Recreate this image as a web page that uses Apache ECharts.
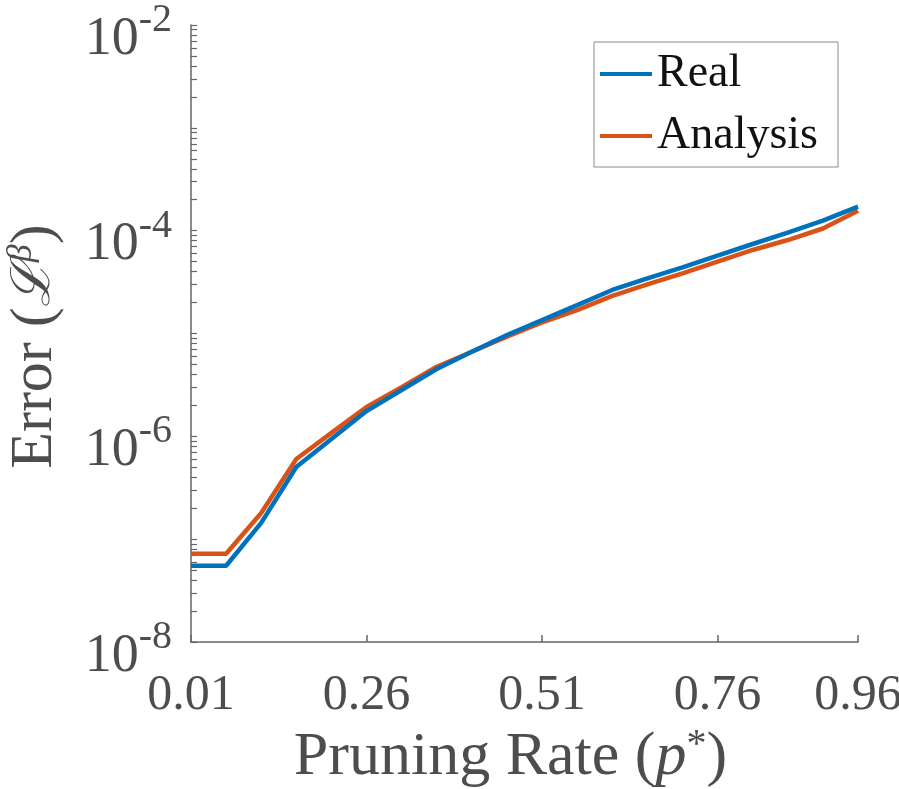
<!DOCTYPE html>
<html>
<head>
<meta charset="utf-8">
<script src="https://cdn.jsdelivr.net/npm/echarts@6/dist/echarts.min.js"></script>
<style>html,body{margin:0;padding:0;background:#fff;}#c{width:899px;height:789px;}</style>
</head>
<body>
<div id="c"></div>
<script>
const pruningRate = [0.01, 0.06, 0.11, 0.16, 0.21, 0.26, 0.31, 0.36, 0.41, 0.46, 0.51, 0.56, 0.61, 0.66, 0.71, 0.76, 0.81, 0.86, 0.91, 0.96];
const realError = [5.52e-8, 5.52e-8, 1.44e-7, 5.03e-7, 9.42e-7, 1.76e-6, 2.82e-6, 4.52e-6, 6.65e-6, 9.67e-6, 1.35e-5, 1.89e-5, 2.65e-5, 3.44e-5, 4.40e-5, 5.71e-5, 7.42e-5, 9.55e-5, 1.25e-4, 1.71e-4];
const analysisError = [7.22e-8, 7.22e-8, 1.80e-7, 6.02e-7, 1.08e-6, 1.93e-6, 3.00e-6, 4.75e-6, 6.65e-6, 9.31e-6, 1.28e-5, 1.69e-5, 2.32e-5, 3.01e-5, 3.85e-5, 4.99e-5, 6.49e-5, 8.11e-5, 1.05e-4, 1.56e-4];
const xTicks = [0.01, 0.26, 0.51, 0.76, 0.96];
const yLabelTicks = [1e-8, 1e-6, 1e-4, 1e-2];
const yDecades = [-8, -7, -6, -5, -4, -3, -2];
const yMinorMantissas = [2, 3, 4, 5, 6, 7, 8, 9];

const yTickValues = [];
yDecades.forEach(function (e) {
  yTickValues.push(Math.pow(10, e));
  if (e < -2) yMinorMantissas.forEach(function (m) { yTickValues.push(m * Math.pow(10, e)); });
});

const serif = '"Liberation Serif", "DejaVu Serif", serif';
const axisColor = '#666666';
const textColor = '#4d4d4d';

const chart = echarts.init(document.getElementById('c'), null, {renderer: 'canvas'});
chart.setOption({
  animation: false,
  backgroundColor: '#fff',
  grid: {left: 191, top: 25, right: 41, bottom: 147, containLabel: false, outerBoundsMode: 'none'},
  legend: {
    orient: 'vertical',
    left: 594, top: 42,
    padding: [7, 20, 6, 6],
    itemGap: 12,
    itemWidth: 52, itemHeight: 4,
    icon: 'rect',
    borderColor: '#8a8a8a', borderWidth: 1,
    backgroundColor: '#fff',
    textStyle: {fontFamily: serif, fontSize: 46, color: '#111', lineHeight: 50},
    data: ['Real', 'Analysis']
  },
  xAxis: {
    type: 'value', min: 0.01, max: 0.96,
    name: 'Pruning Rate ({i|p}{s|*})',
    nameLocation: 'middle', nameGap: 79,
    nameTextStyle: {
      fontFamily: serif, fontSize: 62, color: textColor, lineHeight: 62,
      padding: [0, 28, 0, 0],
      rich: {
        i: {fontFamily: serif, fontSize: 62, fontStyle: 'italic', color: textColor},
        s: {fontFamily: serif, fontSize: 40, color: textColor, padding: [0, 0, 24, 0]}
      }
    },
    axisLine: {show: true, lineStyle: {color: axisColor, width: 1.5}},
    axisTick: {show: true, inside: true, length: 7, lineStyle: {color: axisColor, width: 1.5}, customValues: xTicks},
    axisLabel: {
      customValues: xTicks, margin: 29,
      fontFamily: serif, fontSize: 50, color: textColor,
      formatter: function (v) { return v.toFixed(2); }
    },
    splitLine: {show: false}
  },
  yAxis: {
    type: 'log', logBase: 10, min: 1e-8, max: 1e-2,
    name: 'Error ({l|ℒ}{s|β})',
    nameLocation: 'middle', nameGap: 126,
    nameTextStyle: {
      fontFamily: serif, fontSize: 60, color: textColor, lineHeight: 60,
      padding: [0, 26, 0, 0],
      rich: {
        l: {fontFamily: '"DejaVu Serif", "Liberation Serif", serif', fontStyle: 'italic', fontSize: 54, color: textColor},
        s: {fontFamily: serif, fontStyle: 'italic', fontSize: 36, color: textColor, padding: [0, 0, 26, 0]}
      }
    },
    axisLine: {show: true, lineStyle: {color: axisColor, width: 1.5}},
    axisTick: {show: true, inside: true, length: 6, lineStyle: {color: axisColor, width: 1.2}, customValues: yTickValues},
    axisLabel: {
      customValues: yLabelTicks, margin: 19,
      padding: [2, 0, 0, 0],
      formatter: function (v) {
        const e = Math.round(Math.log10(v));
        return '{b|10}{s|' + e + '}';
      },
      rich: {
        b: {fontFamily: serif, fontSize: 54, color: textColor, lineHeight: 54, padding: [27, 0, 0, 0]},
        s: {fontFamily: serif, fontSize: 40, color: textColor, lineHeight: 40, padding: [0, 0, 11, 0]}
      }
    },
    splitLine: {show: false}
  },
  series: [
    {
      name: 'Real', type: 'line', showSymbol: false, symbol: 'none',
      data: pruningRate.map(function (p, i) { return [p, realError[i]]; }),
      lineStyle: {color: '#0072BD', width: 4.5}, itemStyle: {color: '#0072BD'}, z: 3
    },
    {
      name: 'Analysis', type: 'line', showSymbol: false, symbol: 'none',
      data: pruningRate.map(function (p, i) { return [p, analysisError[i]]; }),
      lineStyle: {color: '#D95319', width: 4.5}, itemStyle: {color: '#D95319'}, z: 2
    }
  ]
});
</script>
</body>
</html>
